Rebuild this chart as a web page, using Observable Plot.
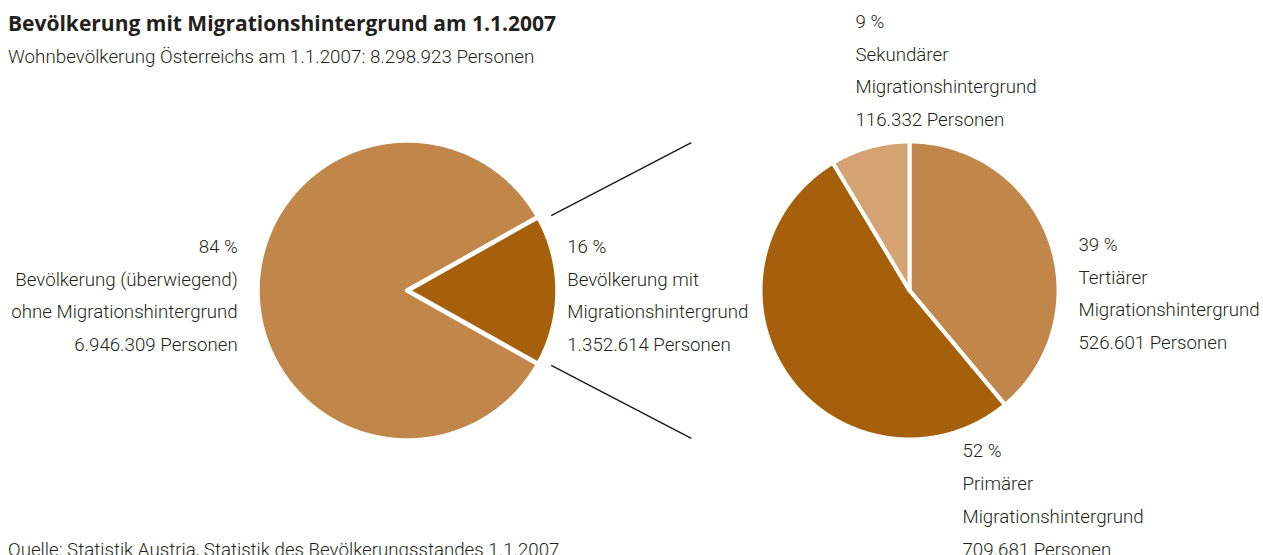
<!DOCTYPE html>
<html>
<head>
<meta charset="utf-8">
<script src="https://cdn.jsdelivr.net/npm/d3@7"></script>
<script src="https://cdn.jsdelivr.net/npm/@observablehq/plot@0.6"></script>
<style>
  html, body { margin: 0; padding: 0; background: #fff; }
  #wrap { position: relative; width: 1263px; height: 555px; overflow: hidden;
          font-family: Roboto, "Liberation Sans", sans-serif; color: #231f20; }
  #wrap svg { position: absolute; left: 0; top: 0; }
  .title { position: absolute; left: 8px; top: 11.3px; margin: 0; font-family: "Open Sans", Roboto, sans-serif; font-size: 21px; line-height: 24px; font-weight: 700; white-space: nowrap; }
  .subtitle { position: absolute; left: 8px; top: 45.5px; margin: 0; font-size: 18.8px; line-height: 22px; font-weight: 300; white-space: nowrap; }
  .caption { position: absolute; left: 8px; top: 538.6px; margin: 0; font-size: 18.7px; line-height: 22px; font-weight: 300; white-space: nowrap; }
</style>
</head>
<body>
<div id="wrap">
  <div class="title">Bevölkerung mit Migrationshintergrund am 1.1.2007</div>
  <div class="subtitle">Wohnbevölkerung Österreichs am 1.1.2007: 8.298.923 Personen</div>
  <div class="caption">Quelle: Statistik Austria, Statistik des Bevölkerungsstandes 1.1.2007</div>
</div>
<script>
// ---- Data ----
const gesamtKategorien = ["Bevölkerung (überwiegend)\nohne Migrationshintergrund", "Bevölkerung mit\nMigrationshintergrund"];
const gesamtWerte = [6946309, 1352614];
const migKategorien = ["Tertiärer\nMigrationshintergrund", "Primärer\nMigrationshintergrund", "Sekundärer\nMigrationshintergrund"];
const migWerte = [526601, 709681, 116332];

// ---- Styles ----
const gesamtFarben = ["#c1874a", "#a6600c"];
const migFarben = ["#c1874a", "#a6600c", "#d4a273"];

// ---- Layout ----
const W = 1263, H = 555;
const L = {cx: 407, cy: 290, r: 150, sw: 4.5};
const R = {cx: 909, cy: 290, r: 149, sw: 4};
const labelSize = 18.7;

const fmtNum = d3.formatLocale({decimal: ",", thousands: ".", grouping: [3], currency: ["", ""]}).format(",d");

function pieSlices(values, colors, startAngle, geo, prefix) {
  const arcs = d3.pie().sort(null).startAngle(startAngle).endAngle(startAngle + 2 * Math.PI)(values);
  const pts = [];
  arcs.forEach((a, i) => {
    const key = prefix + i;
    const n = Math.max(2, Math.ceil((a.endAngle - a.startAngle) / 0.005));
    pts.push({key, color: colors[i], x: geo.cx, y: geo.cy});
    for (let k = 0; k <= n; k++) {
      const t = a.startAngle + (a.endAngle - a.startAngle) * k / n;
      pts.push({key, color: colors[i], x: geo.cx + geo.r * Math.sin(t), y: geo.cy - geo.r * Math.cos(t)});
    }
    pts.push({key, color: colors[i], x: geo.cx, y: geo.cy});
  });
  return {arcs, pts};
}

const gesamtSumme = d3.sum(gesamtWerte);
const migSumme = d3.sum(migWerte);
// small slice centred on 3 o'clock
const kleinWinkel = 2 * Math.PI * gesamtWerte[1] / gesamtSumme;
const left = pieSlices(gesamtWerte, gesamtFarben, Math.PI / 2 + kleinWinkel / 2, L, "g");
const right = pieSlices(migWerte, migFarben, 0, R, "m");

function labelText(v, total, name) {
  return Math.round(v / total * 100) + " %\n" + name + "\n" + fmtNum(v) + " Personen";
}

const vis = L.r - L.sw / 2;   // visible radius left
const visR = R.r - R.sw / 2;  // visible radius right
const labelsEnd = [
  {x: L.cx - vis - 22, y: L.cy + 1, text: labelText(gesamtWerte[0], gesamtSumme, gesamtKategorien[0])}
];
const labelsStart = [
  {x: L.cx + vis + 12, y: L.cy + 1, text: labelText(gesamtWerte[1], gesamtSumme, gesamtKategorien[1])},
  {x: R.cx + visR + 22, y: R.cy - 1, text: labelText(migWerte[0], migSumme, migKategorien[0])},
  {x: R.cx + 53, y: R.cy + 205.5, text: labelText(migWerte[1], migSumme, migKategorien[1])},
  {x: R.cx - 54, y: R.cy - 224, text: labelText(migWerte[2], migSumme, migKategorien[2])}
];

// connector lines along the edges of the small slice
const connAngle = 27.5 * Math.PI / 180;
const connectors = [-1, 1].map(s => ({
  x1: L.cx + 162 * Math.cos(connAngle), y1: L.cy + s * 162 * Math.sin(connAngle),
  x2: L.cx + 320 * Math.cos(connAngle), y2: L.cy + s * 320 * Math.sin(connAngle)
}));

const fontFam = "Roboto, 'Liberation Sans', sans-serif";
const chart = Plot.plot({
  width: W, height: H,
  margin: 0,
  x: {domain: [0, W], range: [0, W], axis: null},
  y: {domain: [0, H], range: [0, H], axis: null},
  color: {type: "identity"},
  style: {background: "transparent", fontFamily: fontFam},
  marks: [
    Plot.line(left.pts, {x: "x", y: "y", z: "key", fill: "color", stroke: "white", strokeWidth: L.sw, strokeLinejoin: "round"}),
    Plot.line(right.pts, {x: "x", y: "y", z: "key", fill: "color", stroke: "white", strokeWidth: R.sw, strokeLinejoin: "round"}),
    Plot.link(connectors, {x1: "x1", y1: "y1", x2: "x2", y2: "y2", stroke: "#1a1a1a", strokeWidth: 1.4}),
    Plot.text(labelsEnd, {x: "x", y: "y", text: "text", textAnchor: "end", lineAnchor: "middle", lineHeight: 1.75, fontSize: labelSize, fontWeight: 300, fill: "#231f20", fontFamily: fontFam}),
    Plot.text(labelsStart, {x: "x", y: "y", text: "text", textAnchor: "start", lineAnchor: "middle", lineHeight: 1.75, fontSize: labelSize, fontWeight: 300, fill: "#231f20", fontFamily: fontFam})
  ]
});
document.getElementById("wrap").prepend(chart);
</script>
</body>
</html>
